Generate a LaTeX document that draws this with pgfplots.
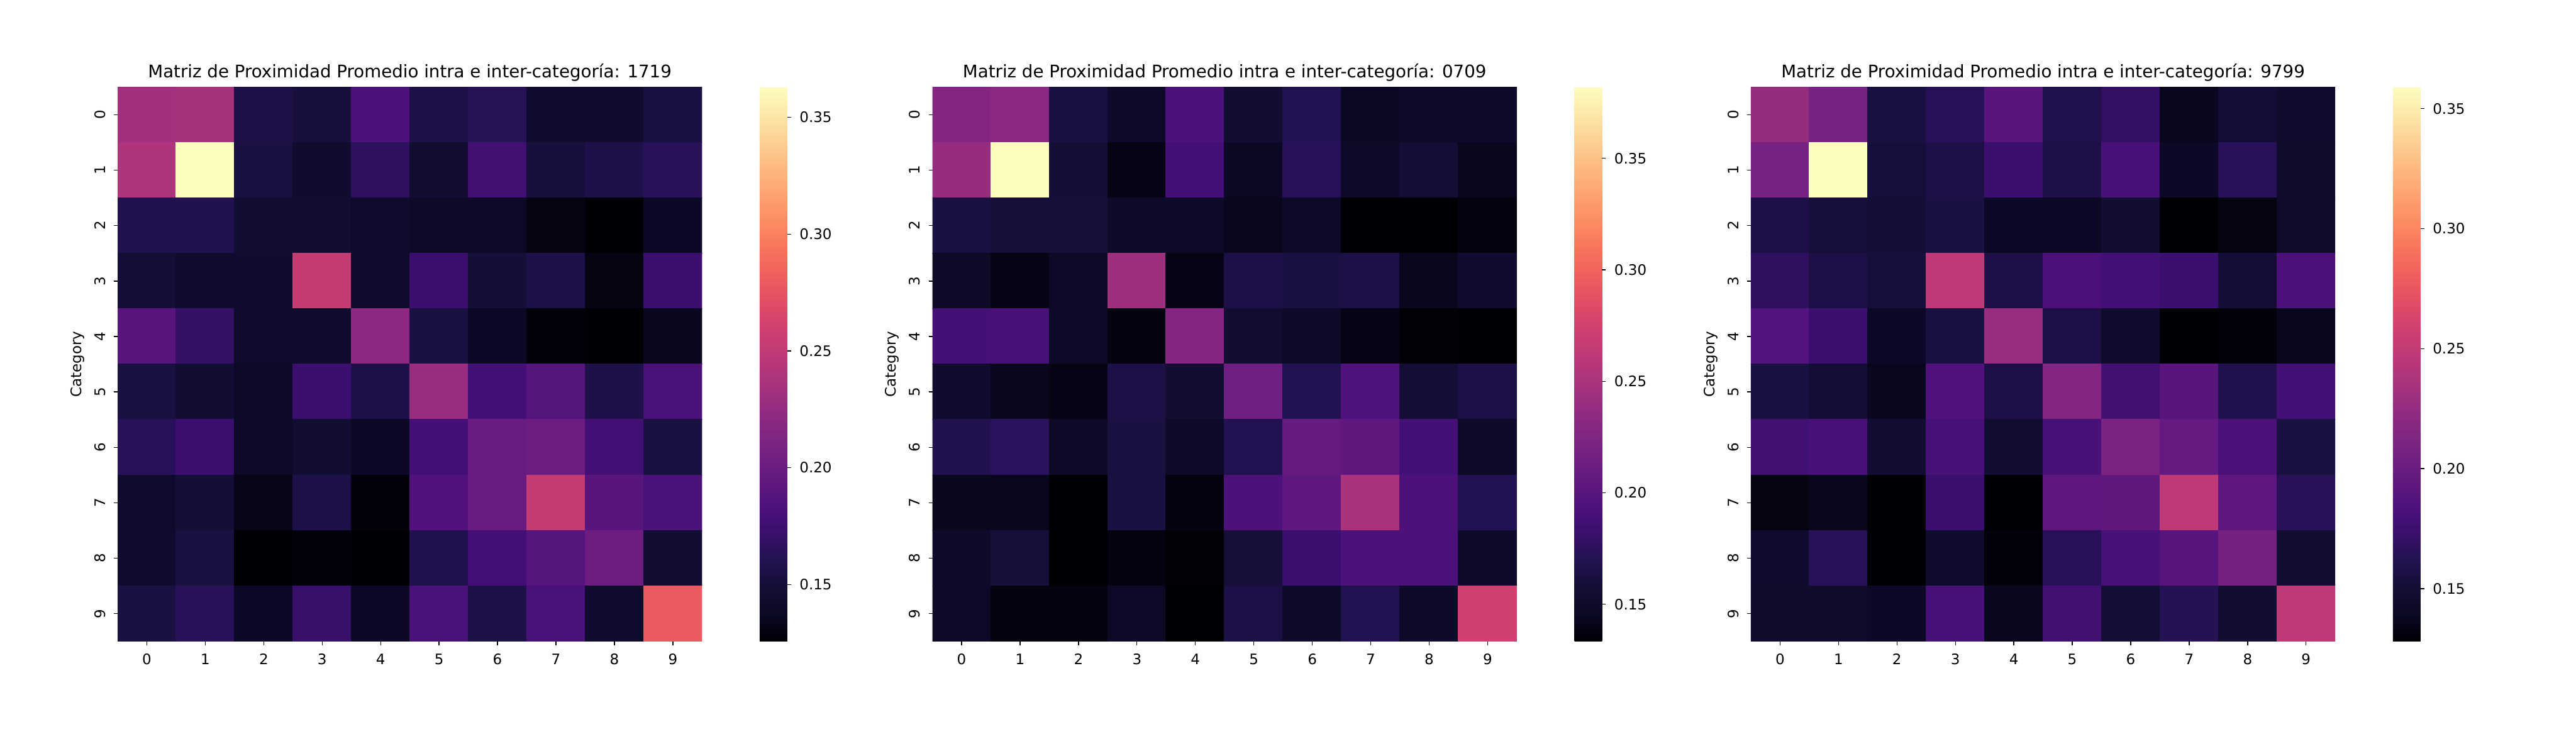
\documentclass[border=0pt]{standalone}
\usepackage{fontspec}
\setmainfont{DejaVu Sans}
\usepackage{pgfplots}
\pgfplotsset{compat=1.18}
\pgfplotsset{
  /pgf/number format/assume math mode=true,
  colormap={magma}{rgb255=(0,0,4) rgb255=(11,9,36) rgb255=(20,14,54) rgb255=(36,18,83) rgb255=(59,15,112) rgb255=(81,18,124) rgb255=(100,26,128) rgb255=(120,34,129) rgb255=(140,41,129) rgb255=(161,48,126) rgb255=(183,55,121) rgb255=(202,62,114) rgb255=(222,73,104) rgb255=(237,90,95) rgb255=(247,112,92) rgb255=(252,137,97) rgb255=(254,159,109) rgb255=(254,183,126) rgb255=(254,207,146) rgb255=(253,231,169) rgb255=(252,253,191)},
  hm/.style={
    scale only axis, width=238.5pt, height=226.25pt, anchor=south west,
    xmin=-0.5, xmax=9.5, ymin=-0.5, ymax=9.5, y dir=reverse,
    xtick={0,...,9}, ytick={0,...,9},
    xtick pos=bottom, ytick pos=left,
    tick align=outside, major tick length=1.5pt,
    tick style={black, line width=0.35pt},
    axis line style={draw=none},
    ticklabel style={font=\fontsize{5.9}{7}\selectfont},
    yticklabel style={rotate=90, anchor=south},
    ylabel={Category},
    every axis y label/.style={at={(axis description cs:-0.0687,0.5)}, rotate=90, anchor=center, font=\fontsize{5.9}{7}\selectfont},
    every axis title/.style={at={(axis description cs:0.5,1)}, anchor=base, yshift=3.75pt, font=\fontsize{7.1}{8.5}\selectfont},
    colormap name=magma,
    colorbar,
    colorbar style={at={(parent axis.south east)}, anchor=south west, xshift=15pt,
      scale only axis, width=11.25pt, height=226.25pt,
      ytick={0.15,0.2,0.25,0.3,0.35}, ytick pos=right, xtick=\empty,
      yticklabel style={font=\fontsize{5.9}{7}\selectfont, /pgf/number format/.cd, fixed, fixed zerofill, precision=2},
      tick align=outside, major tick length=1.5pt, tick style={black, line width=0.35pt},
      axis line style={draw=none}},
  },
  cells/.style={matrix plot*, mesh/cols=10, point meta=explicit},
}
\begin{document}
\begin{tikzpicture}
\path[use as bounding box] (0,0) rectangle (1051.25pt,299.5pt);
% ---------------- 1719 ----------------
\begin{axis}[hm, at={(48pt,37.75pt)}, point meta min=0.1256, point meta max=0.363,
  title={Matriz de Proximidad Promedio intra e inter-categoría: 1719}]
\addplot[cells] coordinates {
(0,0)[0.233] (1,0)[0.235] (2,0)[0.157] (3,0)[0.152] (4,0)[0.183] (5,0)[0.157] (6,0)[0.162] (7,0)[0.145] (8,0)[0.145] (9,0)[0.154]

(0,1)[0.240] (1,1)[0.363] (2,1)[0.154] (3,1)[0.145] (4,1)[0.166] (5,1)[0.147] (6,1)[0.176] (7,1)[0.152] (8,1)[0.157] (9,1)[0.164]

(0,2)[0.159] (1,2)[0.159] (2,2)[0.147] (3,2)[0.147] (4,2)[0.143] (5,2)[0.140] (6,2)[0.140] (7,2)[0.131] (8,2)[0.126] (9,2)[0.138]

(0,3)[0.150] (1,3)[0.145] (2,3)[0.145] (3,3)[0.252] (4,3)[0.143] (5,3)[0.173] (6,3)[0.150] (7,3)[0.157] (8,3)[0.131] (9,3)[0.173]

(0,4)[0.190] (1,4)[0.169] (2,4)[0.143] (3,4)[0.143] (4,4)[0.221] (5,4)[0.154] (6,4)[0.138] (7,4)[0.128] (8,4)[0.126] (9,4)[0.135]

(0,5)[0.154] (1,5)[0.147] (2,5)[0.140] (3,5)[0.173] (4,5)[0.157] (5,5)[0.228] (6,5)[0.178] (7,5)[0.188] (8,5)[0.157] (9,5)[0.181]

(0,6)[0.164] (1,6)[0.173] (2,6)[0.140] (3,6)[0.147] (4,6)[0.138] (5,6)[0.178] (6,6)[0.199] (7,6)[0.202] (8,6)[0.178] (9,6)[0.154]

(0,7)[0.143] (1,7)[0.150] (2,7)[0.133] (3,7)[0.157] (4,7)[0.128] (5,7)[0.185] (6,7)[0.199] (7,7)[0.252] (8,7)[0.190] (9,7)[0.181]

(0,8)[0.143] (1,8)[0.154] (2,8)[0.126] (3,8)[0.128] (4,8)[0.126] (5,8)[0.159] (6,8)[0.178] (7,8)[0.188] (8,8)[0.202] (9,8)[0.147]

(0,9)[0.154] (1,9)[0.164] (2,9)[0.138] (3,9)[0.171] (4,9)[0.138] (5,9)[0.181] (6,9)[0.157] (7,9)[0.181] (8,9)[0.143] (9,9)[0.279]
};
\end{axis}
% ---------------- 0709 ----------------
\begin{axis}[hm, at={(380.5pt,37.75pt)}, point meta min=0.1333, point meta max=0.382,
  title={Matriz de Proximidad Promedio intra e inter-categoría: 0709}]
\addplot[cells] coordinates {
(0,0)[0.228] (1,0)[0.233] (2,0)[0.163] (3,0)[0.150] (4,0)[0.193] (5,0)[0.155] (6,0)[0.170] (7,0)[0.145] (8,0)[0.148] (9,0)[0.150]

(0,1)[0.238] (1,1)[0.382] (2,1)[0.158] (3,1)[0.140] (4,1)[0.188] (5,1)[0.145] (6,1)[0.173] (7,1)[0.148] (8,1)[0.158] (9,1)[0.143]

(0,2)[0.163] (1,2)[0.160] (2,2)[0.160] (3,2)[0.150] (4,2)[0.148] (5,2)[0.143] (6,2)[0.148] (7,2)[0.133] (8,2)[0.133] (9,2)[0.138]

(0,3)[0.148] (1,3)[0.140] (2,3)[0.148] (3,3)[0.243] (4,3)[0.140] (5,3)[0.165] (6,3)[0.163] (7,3)[0.165] (8,3)[0.143] (9,3)[0.153]

(0,4)[0.188] (1,4)[0.190] (2,4)[0.148] (3,4)[0.138] (4,4)[0.228] (5,4)[0.155] (6,4)[0.150] (7,4)[0.140] (8,4)[0.135] (9,4)[0.133]

(0,5)[0.153] (1,5)[0.143] (2,5)[0.140] (3,5)[0.165] (4,5)[0.155] (5,5)[0.215] (6,5)[0.170] (7,5)[0.195] (8,5)[0.158] (9,5)[0.165]

(0,6)[0.168] (1,6)[0.175] (2,6)[0.148] (3,6)[0.163] (4,6)[0.150] (5,6)[0.170] (6,6)[0.210] (7,6)[0.205] (8,6)[0.188] (9,6)[0.150]

(0,7)[0.143] (1,7)[0.143] (2,7)[0.133] (3,7)[0.163] (4,7)[0.138] (5,7)[0.193] (6,7)[0.203] (7,7)[0.250] (8,7)[0.193] (9,7)[0.170]

(0,8)[0.150] (1,8)[0.160] (2,8)[0.133] (3,8)[0.138] (4,8)[0.135] (5,8)[0.160] (6,8)[0.183] (7,8)[0.193] (8,8)[0.193] (9,8)[0.150]

(0,9)[0.148] (1,9)[0.138] (2,9)[0.138] (3,9)[0.148] (4,9)[0.133] (5,9)[0.165] (6,9)[0.150] (7,9)[0.170] (8,9)[0.150] (9,9)[0.272]
};
\end{axis}
% ---------------- 9799 ----------------
\begin{axis}[hm, at={(714.5pt,37.75pt)}, point meta min=0.128, point meta max=0.359,
  title={Matriz de Proximidad Promedio intra e inter-categoría: 9799}]
\addplot[cells] coordinates {
(0,0)[0.225] (1,0)[0.209] (2,0)[0.156] (3,0)[0.165] (4,0)[0.190] (5,0)[0.160] (6,0)[0.170] (7,0)[0.137] (8,0)[0.151] (9,0)[0.146]

(0,1)[0.209] (1,1)[0.359] (2,1)[0.153] (3,1)[0.158] (4,1)[0.174] (5,1)[0.158] (6,1)[0.181] (7,1)[0.140] (8,1)[0.165] (9,1)[0.144]

(0,2)[0.158] (1,2)[0.153] (2,2)[0.151] (3,2)[0.156] (4,2)[0.140] (5,2)[0.140] (6,2)[0.149] (7,2)[0.128] (8,2)[0.133] (9,2)[0.144]

(0,3)[0.167] (1,3)[0.158] (2,3)[0.153] (3,3)[0.248] (4,3)[0.158] (5,3)[0.183] (6,3)[0.179] (7,3)[0.174] (8,3)[0.151] (9,3)[0.183]

(0,4)[0.188] (1,4)[0.174] (2,4)[0.140] (3,4)[0.156] (4,4)[0.227] (5,4)[0.158] (6,4)[0.146] (7,4)[0.128] (8,4)[0.130] (9,4)[0.137]

(0,5)[0.156] (1,5)[0.151] (2,5)[0.137] (3,5)[0.186] (4,5)[0.158] (5,5)[0.216] (6,5)[0.177] (7,5)[0.190] (8,5)[0.160] (9,5)[0.179]

(0,6)[0.177] (1,6)[0.181] (2,6)[0.149] (3,6)[0.181] (4,6)[0.149] (5,6)[0.181] (6,6)[0.211] (7,6)[0.197] (8,6)[0.183] (9,6)[0.156]

(0,7)[0.133] (1,7)[0.137] (2,7)[0.128] (3,7)[0.174] (4,7)[0.128] (5,7)[0.193] (6,7)[0.195] (7,7)[0.248] (8,7)[0.193] (9,7)[0.165]

(0,8)[0.146] (1,8)[0.165] (2,8)[0.128] (3,8)[0.146] (4,8)[0.130] (5,8)[0.165] (6,8)[0.181] (7,8)[0.190] (8,8)[0.207] (9,8)[0.149]

(0,9)[0.144] (1,9)[0.144] (2,9)[0.140] (3,9)[0.181] (4,9)[0.137] (5,9)[0.177] (6,9)[0.151] (7,9)[0.163] (8,9)[0.149] (9,9)[0.248]
};
\end{axis}
\end{tikzpicture}
\end{document}
